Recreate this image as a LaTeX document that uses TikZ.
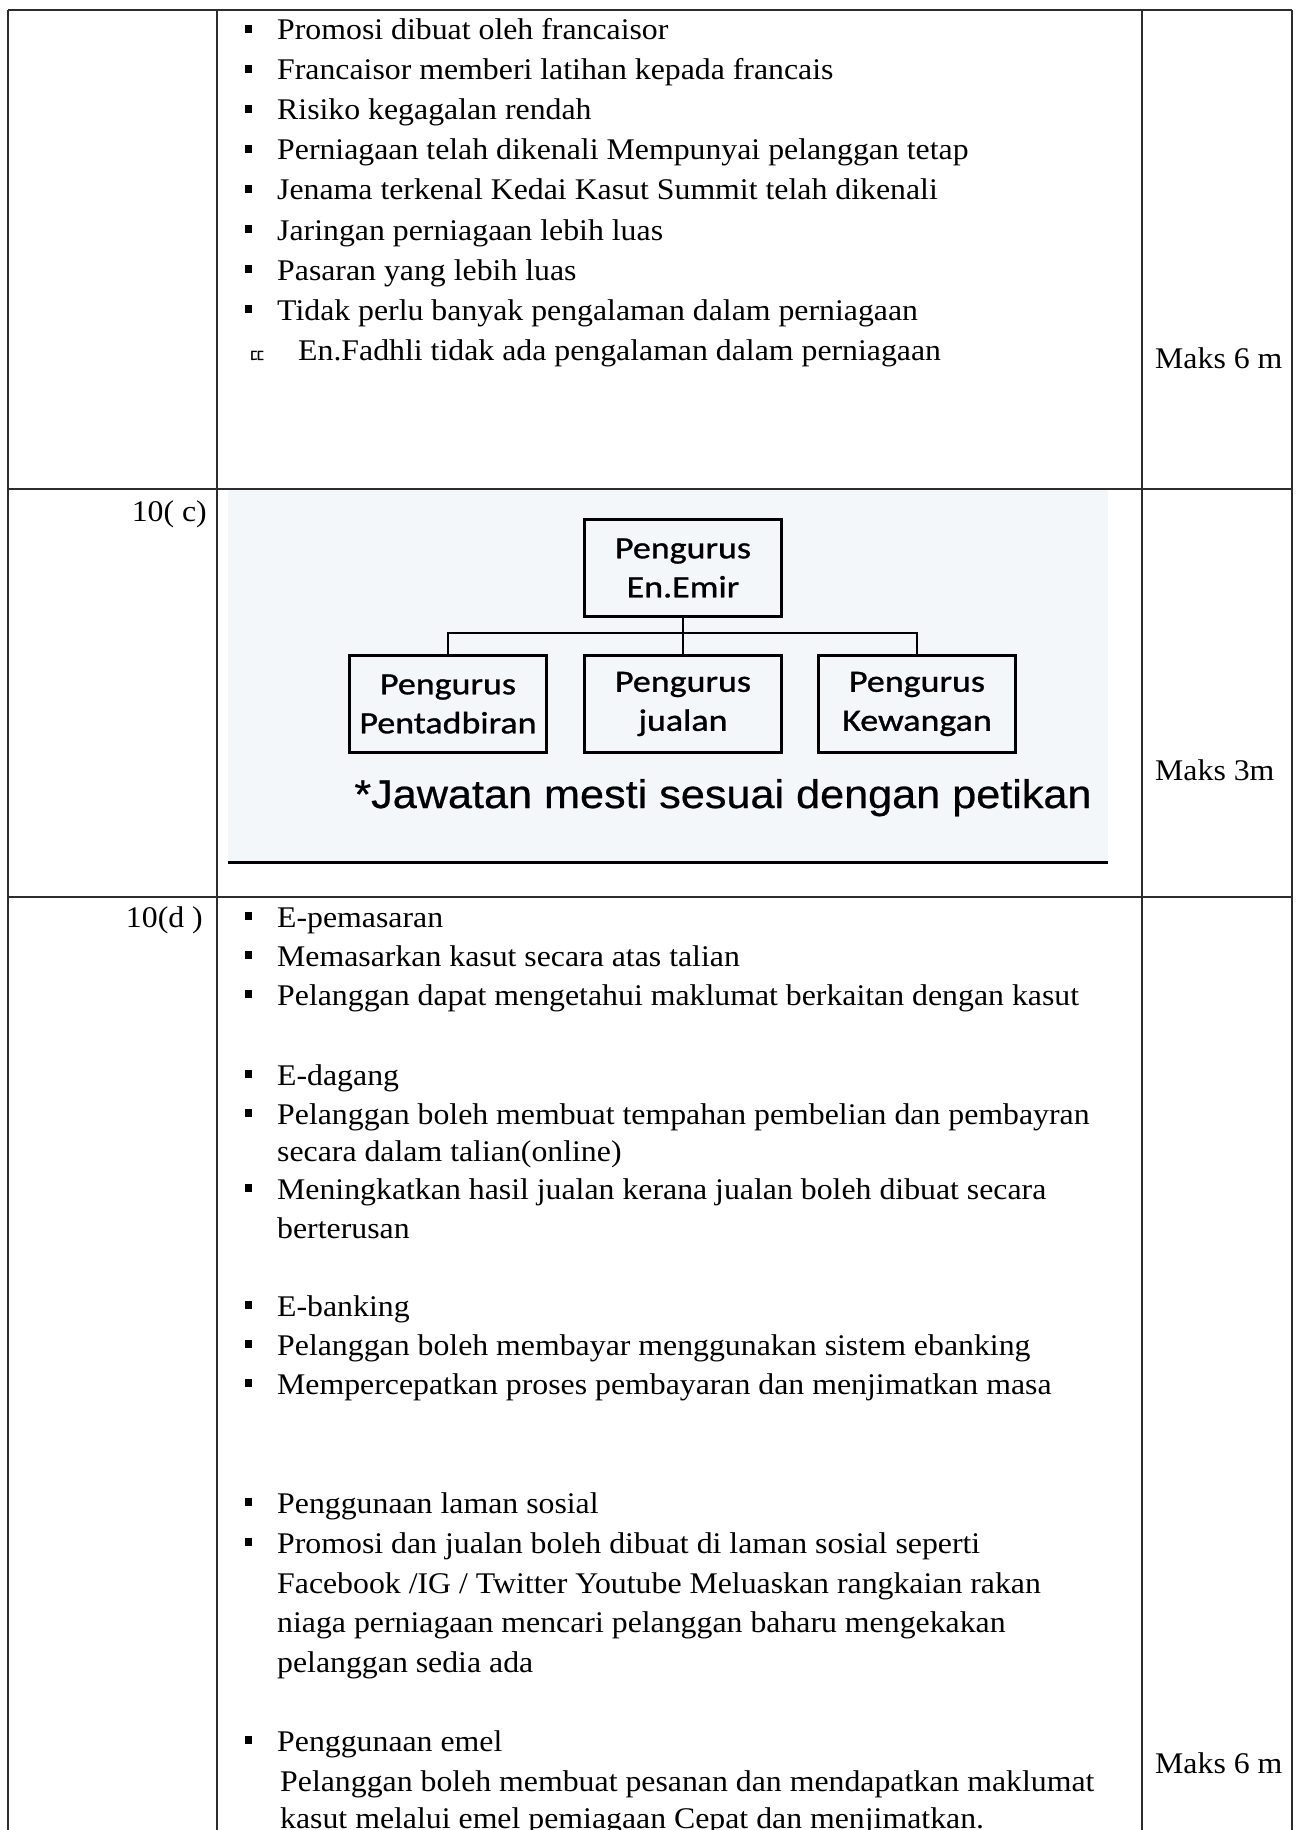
\documentclass[tikz,border=0pt]{standalone}
\usepackage{fontspec}
\setmainfont{Liberation Serif}[FakeStretch=1.06]
\newfontfamily\chartfont{Carlito}[FakeStretch=1.16, FakeBold=1]
\newfontfamily\notefont{Liberation Sans}[FakeStretch=1.08, FakeBold=0.6]
\newfontfamily\krfont{Noto Sans CJK KR}
\usetikzlibrary{positioning}
\definecolor{scanbg}{RGB}{243,247,250}
\definecolor{rulegray}{RGB}{45,45,45}

\begin{document}
\begin{tikzpicture}[
    x=1pt, y=-1pt,
    rule/.style={line width=1.6pt, draw=rulegray},
    item/.style={anchor=base west, inner sep=0pt, font=\fontsize{30}{38}\selectfont},
    qnum/.style={anchor=base east, inner sep=0pt, font=\fontsize{30}{38}\selectfont},
    bulletsq/.style={fill=black, inner sep=0pt, minimum width=7pt, minimum height=8pt},
    post/.style={rectangle, draw, line width=3.5pt, minimum width=197pt, minimum height=97pt,
      align=center, inner sep=0pt, font=\chartfont\fontsize{31}{39}\selectfont},
    link/.style={line width=2.5pt}
]
\useasboundingbox (0,0) rectangle (1302,1830);
\clip (0,0) rectangle (1302,1830);

% Table rules
\draw[rule] (8,10) -- (1292,10);
\draw[rule] (8,489) -- (1292,489);
\draw[rule] (8,897) -- (1292,897);
\draw[rule] (8,10) -- (8,1840);
\draw[rule] (217,10) -- (217,1840);
\draw[rule, line width=2pt] (1142,10) -- (1142,1840);
\draw[rule, line width=2pt] (1292,10) -- (1292,1840);

% Row 1: kelebihan francais
\node[item] (promosi) at (277,40) {Promosi dibuat oleh francaisor};
\node[item] (latihan) at (277,80) {Francaisor memberi latihan kepada francais};
\node[item] (risiko) at (277,120) {Risiko kegagalan rendah};
\node[item] (dikenali) at (277,160) {Perniagaan telah dikenali Mempunyai pelanggan tetap};
\node[item] (jenama) at (277,200) {Jenama terkenal Kedai Kasut Summit telah dikenali};
\node[item] (jaringan) at (277,240) {Jaringan perniagaan lebih luas};
\node[item] (pasaran) at (277,280) {Pasaran yang lebih luas};
\node[item] (tidakperlu) at (277,320) {Tidak perlu banyak pengalaman dalam perniagaan};
\node[anchor=base west, inner sep=0pt, font=\krfont\fontsize{20}{20}\selectfont] (oddmark) at (248,363) {ㄸ};
\node[item] (fadhli) at (298,360) {En.Fadhli tidak ada pengalaman dalam perniagaan};
\foreach \yy in {29,69,109,149,189,229,269,309}
  \node[bulletsq] at (248,\yy) {};
\node[item] (maksa) at (1155,368) {Maks 6 m};

% Row 2: carta organisasi
\node[qnum] (q10c) at (207,521) {10( c)};
\fill[scanbg] (228,490) rectangle (1108,862);
\draw[line width=3pt] (228,862) -- (1108,862);

\node[post] (pengurus) at (683,568) {Pengurus\\En.Emir};
\node[post] (pentadbiran) at (448,704) {Pengurus\\Pentadbiran};
\node[post] (jualan) at (683,704) {Pengurus\\jualan};
\node[post] (kewangan) at (917,704) {Pengurus\\Kewangan};

\draw[link] (pengurus.south) -- (jualan.north);
\draw[link] (pentadbiran.north) -- ++(0,-21) -| (kewangan.north);

\node[anchor=base, inner sep=0pt, font=\notefont\fontsize{40}{40}\selectfont] (jawatan) at (723,808)
  {*Jawatan mesti sesuai dengan petikan};
\node[item] (maksb) at (1155,780) {Maks 3m};

% Row 3: e-dagang
\node[qnum] (q10d) at (203,927) {10(d )};
\node[item] (epemasaran) at (277,927) {E-pemasaran};
\node[item] (memasarkan) at (277,966) {Memasarkan kasut secara atas talian};
\node[item] (maklumat) at (277,1005) {Pelanggan dapat mengetahui maklumat berkaitan dengan kasut};
\node[item] (edagang) at (277,1085) {E-dagang};
\node[item] (tempahan) at (277,1124) {Pelanggan boleh membuat tempahan pembelian dan pembayran};
\node[item] (online) at (277,1161) {secara dalam talian(online)};
\node[item] (hasil) at (277,1199) {Meningkatkan hasil jualan kerana jualan boleh dibuat secara};
\node[item] (berterusan) at (277,1238) {berterusan};
\node[item] (ebanking) at (277,1316) {E-banking};
\node[item] (membayar) at (277,1355) {Pelanggan boleh membayar menggunakan sistem ebanking};
\node[item] (cepat) at (277,1394) {Mempercepatkan proses pembayaran dan menjimatkan masa};
\node[item] (laman) at (277,1513) {Penggunaan laman sosial};
\node[item] (sosial) at (277,1553) {Promosi dan jualan boleh dibuat di laman sosial seperti};
\node[item] (facebook) at (277,1593) {Facebook /IG / Twitter Youtube Meluaskan rangkaian rakan};
\node[item] (niaga) at (277,1632) {niaga perniagaan mencari pelanggan baharu mengekakan};
\node[item] (sedia) at (277,1672) {pelanggan sedia ada};
\node[item] (emel) at (277,1751) {Penggunaan emel};
\node[item] (pesanan) at (280,1791) {Pelanggan boleh membuat pesanan dan mendapatkan maklumat};
\node[item] (melalui) at (280,1828) {kasut melalui emel pemiagaan Cepat dan menjimatkan.};
\foreach \yy in {916,955,994,1074,1113,1188,1305,1344,1383,1502,1542,1740}
  \node[bulletsq] at (248,\yy) {};
\node[item] (maksc) at (1155,1773) {Maks 6 m};

\end{tikzpicture}
\end{document}
